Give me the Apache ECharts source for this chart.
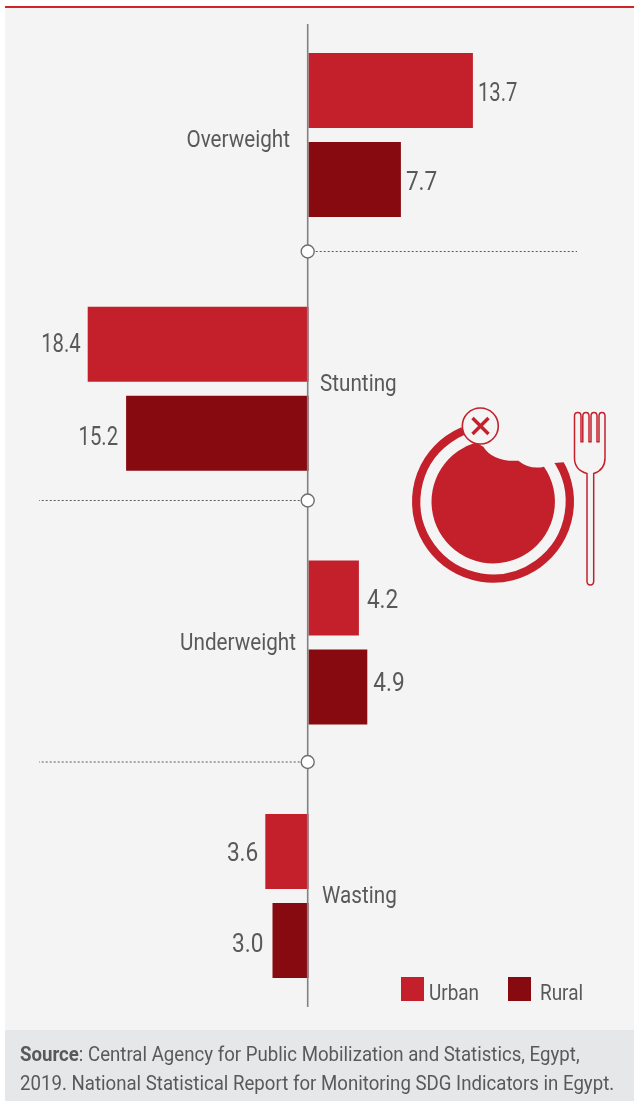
<!DOCTYPE html>
<html>
<head>
<meta charset="utf-8">
<style>html,body{margin:0;padding:0;background:#fff}#c{width:634px;height:1101px}</style>
<script src="https://cdn.jsdelivr.net/npm/echarts@6/dist/echarts.min.js"></script>
</head>
<body>
<div id="c"></div>
<script>
const categories = ['Overweight', 'Stunting', 'Underweight', 'Wasting'];
const urban = [13.7, -18.4, 4.2, -3.6];
const rural = [7.7, -15.2, 4.9, -3.0];
const seriesNames = ['Urban', 'Rural'];
const sourceLines = ['Central Agency for Public Mobilization and Statistics, Egypt,',
  '2019. National Statistical Report for Monitoring SDG Indicators in Egypt.'];

const RED = '#c4202b', DARK = '#870a10', TEXT = '#58595b', FONT = 'Roboto, "Liberation Sans", sans-serif';
const chart = echarts.init(document.getElementById('c'), null, {renderer: 'canvas'});

function textEl(x, y, text, size, scaleX, align) {
  return {type: 'text', x, y, scaleX, silent: true,
    style: {text, fontFamily: FONT, fontSize: size, fill: TEXT, align, verticalAlign: 'middle'}};
}

// Value labels, anchored on each bar's end through the axes
const labelDx = [[5, 7, 8, 7], [5, 8, 6, 9]];
const labelDy = [[-44.5 + 4, -44.5 + 1, -44.5 + 3.5, -44.5 + 3], [44.5 + 4, 44.5 + 5, 44.5 - 2, 44.5 + 5]];
function valueLabels(values, k) {
  return {
    type: 'custom', silent: true, z: 4,
    data: values.map((v, i) => [v, i]),
    renderItem(p, api) {
      const v = api.value(0), pt = api.coord([v, api.value(1)]), i = p.dataIndex;
      const s = v < 0 ? -1 : 1;
      const scale = Math.abs(v) >= 10 ? 0.78 : 0.87;
      return textEl(pt[0] + s * labelDx[k][i], pt[1] + labelDy[k][i], Math.abs(v).toFixed(1), 26, scale, s < 0 ? 'right' : 'left');
    }
  };
}
// Category names sit beside the axis, on the side away from the bars
const nameDx = [-18.5, 11.5, -12.5, 13.5];
const nameDy = [6, -3.7, 2, 1];
const nameSeries = {
  type: 'custom', silent: true, z: 4,
  data: categories.map((c, i) => [0, i]),
  renderItem(p, api) {
    const i = p.dataIndex, pt = api.coord([0, api.value(1)]);
    return textEl(pt[0] + nameDx[i], pt[1] + nameDy[i], categories[i], 23.5, 0.88, nameDx[i] < 0 ? 'right' : 'left');
  }
};
function bar(name, values, color) {
  return {name, type: 'bar', data: values, barWidth: 75, barGap: '18.67%', itemStyle: {color},
    emphasis: {disabled: true}, z: 3};
}

chart.setOption({
  animation: false,
  backgroundColor: '#ffffff',
  grid: {left: 8.5, width: 624, top: 8.2, height: 1014.7, containLabel: false},
  xAxis: {type: 'value', min: -25, max: 27, show: false},
  yAxis: {type: 'category', data: categories, inverse: true, show: false},
  legend: {
    left: 401, top: 977, icon: 'rect', itemWidth: 23, itemHeight: 24, itemGap: 84, selectedMode: false,
    padding: 0, formatter: () => '', data: seriesNames
  },
  series: [bar(seriesNames[0], urban, RED), bar(seriesNames[1], rural, DARK),
    valueLabels(urban, 0), valueLabels(rural, 1), nameSeries]
});

// Decoration: panel, axis line, dividers, plate icon
const zeroX = chart.convertToPixel({xAxisIndex: 0}, 0) - 0.8;
const dividerY = [251.5, 500.5, 762];
const dividerEnds = [577, 39, 39];
echarts.graphic.registerShape('dishShape', echarts.graphic.extendPath(
  'M483.3 446.7 Q493 462 518.3 460.7 Q530 470 544 466.7 A61.7 61.7 0 1 1 476 442.5 Z', {}));
echarts.graphic.registerShape('forkShape', echarts.graphic.extendPath(
  'M587 581 Q587 585 590.3 585 Q593.7 585 593.7 581 L593.7 473.5 Q605 470 605 458 L605 416 Q605 412.5 602 412.5 Q599 412.5 599 416 L599 441.7 L597 441.7 L597 416 Q597 412.5 594 412.5 Q591 412.5 591 416 L591 441.7 L589 441.7 L589 416 Q589 412.5 586 412.5 Q582.8 412.5 582.8 416 L582.8 441.7 L581 441.7 L581 416 Q581 412.5 577.8 412.5 Q574.5 412.5 574.5 416 L574.5 458 Q574.5 470 587 473.5 Z', {}));
const deco = [
  {type: 'rect', z: -3, shape: {x: 5, y: 6, width: 629, height: 1024}, style: {fill: '#f4f4f4'}},
  {type: 'rect', z: -2, shape: {x: 5, y: 6, width: 629, height: 2}, style: {fill: '#d2232a'}},
  {type: 'rect', z: -2, shape: {x: 5, y: 1030, width: 629, height: 71}, style: {fill: '#e6e7e9'}},
  {type: 'line', z: 5, shape: {x1: zeroX, y1: 24, x2: zeroX, y2: 1007}, style: {stroke: '#808285', lineWidth: 1.6}}
];
dividerY.forEach((y, i) => {
  deco.push({type: 'line', z: 1, shape: {x1: zeroX, y1: y, x2: dividerEnds[i], y2: y},
    style: {stroke: '#58595b', lineWidth: 1, lineDash: [2, 2]}});
  deco.push({type: 'circle', z: 6, shape: {cx: zeroX, cy: y, r: 6.5},
    style: {fill: '#ffffff', stroke: '#6d6e71', lineWidth: 1.4}});
});
const rad = d => d * Math.PI / 180;
deco.push(
  {type: 'arc', z: 2, shape: {cx: 493, cy: 501.7, r: 76.8, startAngle: rad(-36), endAngle: rad(247), clockwise: true},
    style: {stroke: RED, lineWidth: 8.4, fill: null}},
  {type: 'polygon', z: 2.5, shape: {points: [[548, 448], [573, 448], [573, 461.5], [548, 463.5]]}, style: {fill: '#f4f4f4'}},
  {type: 'dishShape', z: 3, style: {fill: RED}},
  {type: 'circle', z: 3, shape: {cx: 480.3, cy: 426, r: 18}, style: {fill: '#f4f4f4', stroke: RED, lineWidth: 1.6}},
  {type: 'line', z: 3, shape: {x1: 472.5, y1: 418, x2: 488.5, y2: 434}, style: {stroke: RED, lineWidth: 3.4}},
  {type: 'line', z: 3, shape: {x1: 488.5, y1: 418, x2: 472.5, y2: 434}, style: {stroke: RED, lineWidth: 3.4}},
  {type: 'forkShape', z: 3, style: {fill: null, stroke: RED, lineWidth: 1.5}},
  // legend names
  {type: 'text', z: 6, x: 429, y: 994, scaleX: 0.86, style: {text: seriesNames[0], fontFamily: FONT, fontSize: 22, fill: TEXT, verticalAlign: 'middle'}},
  {type: 'text', z: 6, x: 540, y: 994, scaleX: 0.86, style: {text: seriesNames[1], fontFamily: FONT, fontSize: 22, fill: TEXT, verticalAlign: 'middle'}},
  // source note
  {type: 'text', z: 6, x: 20, y: 1041, scaleX: 0.932, style: {
    text: '{b|Source}: ' + sourceLines[0] + '\n' + sourceLines[1],
    fontFamily: FONT, fontSize: 20, fill: TEXT, lineHeight: 29,
    rich: {b: {fontFamily: FONT, fontSize: 20, fontWeight: 'bold', fill: TEXT, lineHeight: 29}}
  }}
);
chart.setOption({graphic: {elements: deco}});
</script>
</body>
</html>
